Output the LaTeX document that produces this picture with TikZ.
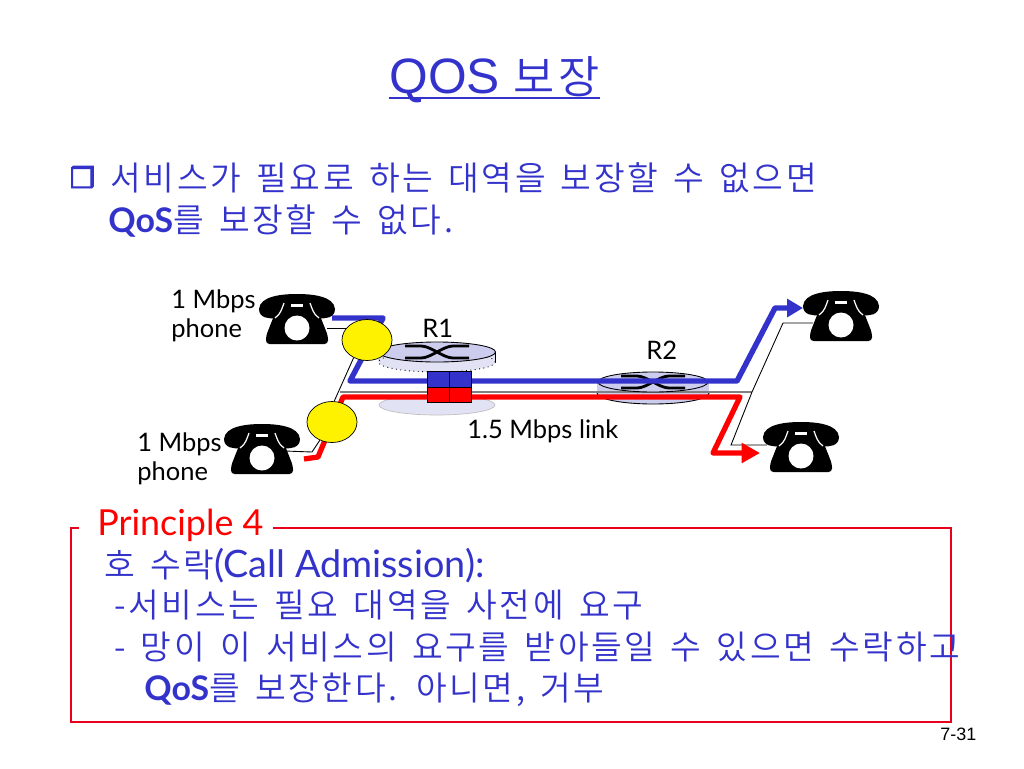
\documentclass[tikz,border=0pt]{standalone}
\usepackage{fontspec}
\setmainfont{Noto Sans CJK KR DemiLight}[LetterSpace=8,WordSpace=1.5]
\newfontfamily\latfont{Lato}
\newfontfamily\titlefont{Liberation Sans}
\newfontfamily\symfont[FakeBold=3]{DejaVu Sans}
\usepackage{tikz}
\usetikzlibrary{arrows.meta,shapes.geometric}
\definecolor{textblue}{RGB}{51,51,204}
\definecolor{linkblue}{RGB}{51,51,204}
\definecolor{linkred}{RGB}{255,0,0}
\definecolor{routerfill}{RGB}{204,204,238}
\definecolor{routerpale}{RGB}{226,226,245}
\definecolor{boxred}{RGB}{232,0,28}
\newcommand{\lat}[1]{{\latfont\bfseries\fontsize{19.3}{22}\selectfont #1}}
\newcommand{\latwide}[1]{{\latfont\fontsize{21.5}{22}\selectfont #1}}
\tikzset{
  bodytext/.style  = {anchor=base west,inner sep=0pt,textblue,font=\fontsize{19}{22}\selectfont},
  netlabel/.style  = {anchor=base west,inner sep=0pt,black,font=\latfont\fontsize{14.5}{18}\selectfont},
  hub/.style       = {ellipse,draw=black,fill=yellow,minimum width=1cm,minimum height=0.82cm,inner sep=0pt},
  wire/.style      = {black,line width=0.5pt},
  bluelink/.style  = {linkblue,line width=3.1pt,line join=round,-{Triangle[length=9pt,width=10pt]}},
  redlink/.style   = {linkred,line width=3pt,line join=round,-{Triangle[length=10.5pt,width=11pt]}},
  graylink/.style  = {gray,line width=1.3pt},
  queuecell/.style = {draw=black,line width=0.5pt,minimum width=0.44cm,minimum height=0.31cm,inner sep=0pt},
  pics/phone/.style = {code={
    \fill[black] (-38,15) .. controls (-37,2) and (-15,0) .. (0,0)
      .. controls (15,0) and (37,2) .. (38,15)
      .. controls (38,24) and (28,25) .. (22,24) -- (-22,24)
      .. controls (-28,25) and (-38,24) .. (-38,15) -- cycle;
    \fill[black,rounded corners=2pt] (-18,9) -- (18,9) -- (31,42) -- (31,50) -- (-31,50) -- (-31,42) -- cycle;
    \draw[white,line width=0.7pt] (-13,9) .. controls (-15,14) and (-16,20) .. (-22,24);
    \draw[white,line width=0.7pt] (13,9) .. controls (15,14) and (16,20) .. (22,24);
    \fill[white] (-6,10) rectangle (6,12.5);
    \fill[white] (0,34) circle (12.5);
  }},
  pics/router/.style = {code={
    \draw[black,fill=routerfill,line width=0.5pt] (0,0) ellipse (#1 and 10);
    \draw[black,line width=1.6pt] (-32,-6) -- (-16,-6) .. controls (-6,-6) and (6,6) .. (16,6) -- (32,6);
    \draw[black,line width=1.6pt] (-32,6) -- (-16,6) .. controls (-6,6) and (6,-6) .. (16,-6) -- (32,-6);
  }}
}
\begin{document}
\begin{tikzpicture}[x=0.02cm,y=-0.02cm]
  \useasboundingbox (0,0) rectangle (1024,768);

  \node[anchor=base west,inner sep=0pt,textblue,font=\titlefont\fontsize{28.3}{32}\selectfont] (title) at (389,93) {QOS {\rmfamily\fontsize{25.5}{32}\selectfont 보장}};
  \draw[textblue,line width=1.1pt] ([yshift=-3pt]title.base west) -- ([yshift=-3pt]title.base east);
  \node[anchor=base west,inner sep=0pt,textblue,font=\symfont\fontsize{16}{20}\selectfont] (bullet) at (69.5,188) {❒};
  \node[bodytext] (lineA) at (110,190) {서비스가 필요로 하는 대역을 보장할 수 없으면};
  \node[bodytext] (lineB) at (108,232) {\lat{QoS}를 보장할 수 없다.};

  \fill[routerpale,draw=black!25,line width=0.4pt] (437,405) ellipse (58 and 10);
  \fill[routerpale] (378,352) rectangle (495,362);
  \draw[black,dotted,line width=0.5pt,fill=routerpale] (437,362) ellipse (58.5 and 10);
  \draw[black,line width=0.5pt] (495.5,352) -- (495.5,362);
  \draw[black,fill=routerfill,line width=0.5pt] (653,393) ellipse (56 and 11);
  \fill[routerfill] (597,382) rectangle (709,393);

  \coordinate (phoneAport) at (327,328);
  \coordinate (phoneAend) at (346,328);
  \coordinate (phoneBport) at (285,451);
  \coordinate (phoneBbend) at (312,452);
  \coordinate (phoneCport) at (813,323);
  \coordinate (phoneCbend) at (783,323);
  \coordinate (phoneDport) at (767,445);
  \coordinate (phoneDbend) at (731,445);
  \coordinate (linkstart) at (340,392);
  \coordinate (linkend) at (752,392);

  \draw[graylink] (linkstart) -- (linkend);
  \draw[wire] (phoneCport) -- (phoneCbend) -- (linkend) -- (phoneDbend) -- (phoneDport);

  \pic at (437,352) {router=58.5};
  \pic at (653,382) {router=55};

  \coordinate (blueA) at (332,318);
  \coordinate (blueB) at (383,318);
  \coordinate (blueC) at (350,381);
  \coordinate (blueD) at (737,381);
  \coordinate (blueE) at (775,308);
  \coordinate (blueF) at (803,308);
  \coordinate (redA) at (304,459);
  \coordinate (redB) at (318,457);
  \coordinate (redC) at (343,397);
  \coordinate (redD) at (740,397);
  \coordinate (redE) at (713,453);
  \coordinate (redF) at (760,453);

  \draw[bluelink] (blueA) -- (blueB) -- (blueC) -- (blueD) -- (blueE) -- (blueF);
  \draw[redlink] (redA) -- (redB) -- (redC) -- (redD) -- (redE) -- (redF);

  \node[hub] (hubA) at (367,340) {};
  \node[hub] (hubB) at (332,422) {};
  \draw[wire] (phoneAport) -- (phoneAend);
  \draw[wire] (hubA.233) -- (hubB.84);
  \draw[wire] (phoneBport) -- (phoneBbend) -- (hubB);

  \node[queuecell,fill=linkblue] (queueA) at (438,379.5) {};
  \node[queuecell,fill=linkblue] (queueB) at (460,379.5) {};
  \node[queuecell,fill=linkred] (queueC) at (438,395) {};
  \node[queuecell,fill=linkred] (queueD) at (460,395) {};

  \pic at (297,294) {phone};
  \pic at (262,424) {phone};
  \pic at (841,291) {phone};
  \pic at (801,422) {phone};

  \node[netlabel] (rateA) at (171,308) {1 Mbps};
  \node[netlabel] (kindA) at (171,337) {phone};
  \node[netlabel] (rateB) at (137,451) {1 Mbps};
  \node[netlabel] (kindB) at (137,480) {phone};
  \node[netlabel] (routerA) at (422,337) {R1};
  \node[netlabel] (routerB) at (646,359) {R2};
  \node[netlabel] (linkrate) at (467,438) {1.5 Mbps link};

  \draw[boxred,line width=1.2pt] (71,528) rectangle (951,722);
  \fill[white] (79,515) rectangle (273,540);
  \node[anchor=base west,inner sep=0pt,text=linkred,font=\latfont\fontsize{20.4}{22}\selectfont] (principle) at (97,535) {Principle 4};

  \node[bodytext] (boxA) at (104,577) {호 수락\latwide{(Call Admission):}};
  \node[bodytext] (boxB) at (114,617) {-서비스는 필요 대역을 사전에 요구};
  \node[bodytext] (boxC) at (114,659) {- 망이 이 서비스의 요구를 받아들일 수 있으면 수락하고};
  \node[bodytext] (boxD) at (144,700) {\lat{QoS}를 보장한다. 아니면, 거부};

  \node[anchor=base west,inner sep=0pt,black,font=\titlefont\fontsize{10.2}{12}\selectfont] (pagenum) at (940,740) {7-31};
\end{tikzpicture}
\end{document}
